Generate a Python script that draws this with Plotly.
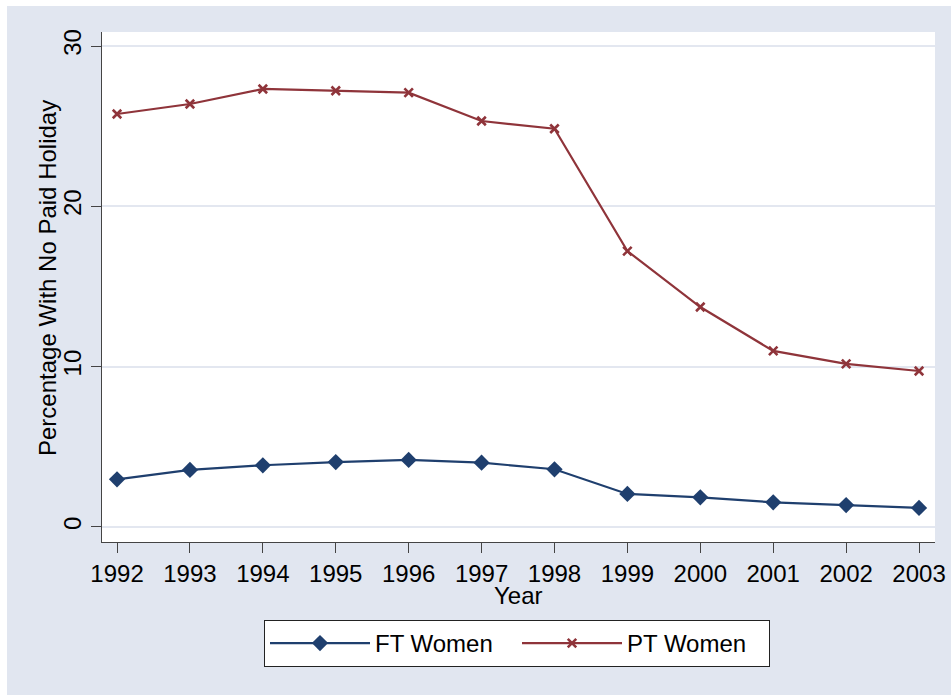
import plotly.graph_objects as go

years = [1992, 1993, 1994, 1995, 1996, 1997, 1998, 1999, 2000, 2001, 2002, 2003]
ft_women = [2.97, 3.56, 3.85, 4.05, 4.18, 4.01, 3.60, 2.06, 1.85, 1.54, 1.37, 1.19]
pt_women = [25.76, 26.38, 27.32, 27.21, 27.09, 25.32, 24.84, 17.21, 13.72, 10.98, 10.17, 9.73]
y_ticks = [0, 10, 20, 30]

NAVY = "#1f3f6e"
MAROON = "#8f343a"
BG = "#e1e6f0"
GRID = "#e3e7f0"
FONT = "Liberation Sans, Arial, sans-serif"

W, H = 951, 695
ML, MR, MT, MB = 102, 16, 32, 153
PW, PH = W - ML - MR, H - MT - MB

fig = go.Figure()
fig.add_trace(go.Scatter(
    x=years, y=ft_women, name="FT Women", mode="lines+markers",
    line=dict(color=NAVY, width=2.2),
    marker=dict(symbol="diamond", size=12.5, color=NAVY),
))
fig.add_trace(go.Scatter(
    x=years, y=pt_women, name="PT Women", mode="lines+markers",
    line=dict(color=MAROON, width=2.2),
    marker=dict(symbol="x-thin", size=8.5, color=MAROON,
                line=dict(color=MAROON, width=2.6)),
))

fig.update_layout(
    width=W, height=H,
    margin=dict(l=ML, r=MR, t=MT, b=MB, autoexpand=False),
    paper_bgcolor=BG, plot_bgcolor="white",
    font=dict(family=FONT, size=24, color="black"),
    showlegend=True,
    legend=dict(
        orientation="h", x=(264 - ML) / PW, xanchor="left",
        y=-(620 - 542) / PH, yanchor="top",
        bordercolor="#222222", borderwidth=1, bgcolor="white",
        font=dict(size=24), entrywidth=137, itemwidth=100,
    ),
    shapes=[
        dict(type="rect", xref="paper", yref="paper", x0=-1, x1=2,
             y0=1 + (MT - 6) / PH, y1=2,
             fillcolor="white", line=dict(width=0), layer="below"),
        dict(type="rect", xref="paper", yref="paper", x0=-2, x1=-(ML - 7) / PW,
             y0=-2, y1=2,
             fillcolor="white", line=dict(width=0), layer="below"),
    ],
    annotations=[
        dict(text="Percentage With No Paid Holiday", textangle=-90,
             xref="paper", yref="paper", x=(47 - ML) / PW, y=(542 - 278) / PH,
             xanchor="center", yanchor="middle", showarrow=False,
             font=dict(size=24)),
        dict(text="Year",
             xref="paper", yref="paper", x=0.5, y=-(595 - 542) / PH,
             xanchor="center", yanchor="middle", showarrow=False,
             font=dict(size=24)),
    ],
)

fig.update_xaxes(
    range=[1991.794, 2003.219], tickmode="array", tickvals=years,
    ticktext=[str(y) for y in years], automargin=False,
    showgrid=False, zeroline=False,
    showline=True, linecolor="#444444", linewidth=1.2,
    ticks="outside", ticklen=10, tickcolor="#444444", tickwidth=1.2,
)
fig.update_yaxes(
    range=[-0.936, 30.873], tickmode="array", tickvals=y_ticks, automargin=False,
    showgrid=True, gridcolor=GRID, gridwidth=2, zeroline=False,
    showline=True, linecolor="#444444", linewidth=1.2,
    ticks="outside", ticklen=10, tickcolor="#444444", tickwidth=1.2,
    tickangle=-90,
)

fig.write_html(
    "out.html",
    config={"displayModeBar": False},
    post_script="document.body.style.margin='0';document.body.style.overflow='hidden';",
)
